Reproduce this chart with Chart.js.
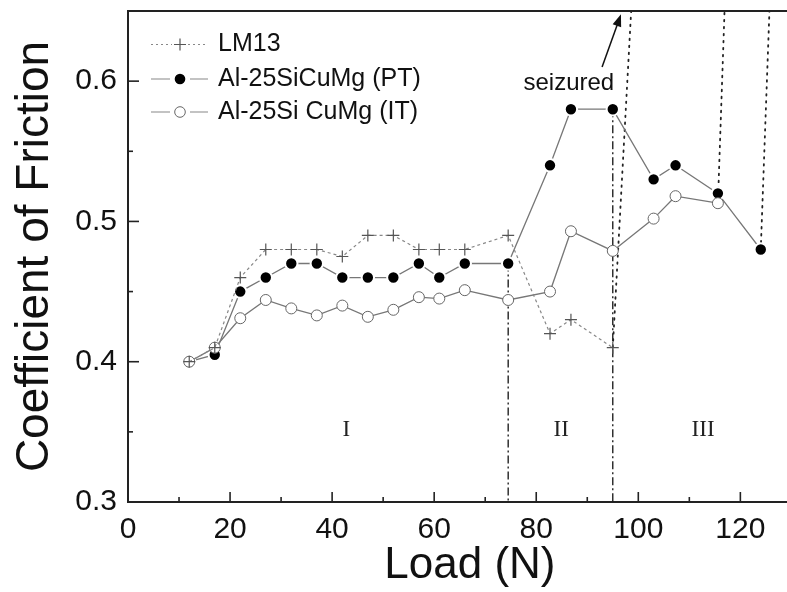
<!DOCTYPE html>
<html>
<head>
<meta charset="utf-8">
<script src="https://cdn.jsdelivr.net/npm/chart.js@4/dist/chart.umd.min.js"></script>
<style>
html,body{margin:0;padding:0;overflow:hidden;background:#fff;width:787px;height:592px;}
canvas{display:block;}
</style>
</head>
<body>
<canvas id="c" width="820" height="592"></canvas>
<script>
// ---- data ----
const loadLM13 = [12,17,22,27,32,37,42,47,52,57,61,66,74.5,82.7,86.8,95];
const cofLM13  = [0.40,0.41,0.46,0.48,0.48,0.48,0.475,0.49,0.49,0.48,0.48,0.48,0.49,0.42,0.43,0.41];
const loadPT   = [12,17,22,27,32,37,42,47,52,57,61,66,74.5,82.7,86.8,95,103,107.3,115.6,124];
const cofPT    = [0.40,0.405,0.45,0.46,0.47,0.47,0.46,0.46,0.46,0.47,0.46,0.47,0.47,0.54,0.58,0.58,0.53,0.54,0.52,0.48];
const loadIT   = [12,17,22,27,32,37,42,47,52,57,61,66,74.5,82.7,86.8,95,103,107.3,115.6];
const cofIT    = [0.40,0.41,0.431,0.444,0.438,0.433,0.44,0.432,0.437,0.446,0.445,0.451,0.444,0.45,0.493,0.479,0.502,0.518,0.513];
// seizure (dotted) lines: start point -> point at top of axis
const seizLM13X = [95,98.6];    const seizLM13Y = [0.41,0.65];
const seizITX   = [115.6,116.9]; const seizITY   = [0.513,0.65];
const seizPTX   = [124,125.7];   const seizPTY   = [0.48,0.65];
// regime boundaries (dash-dot)
const bound1X = [74.5,74.5]; const bound1Y = [0.47,0.30];
const bound2X = [95,95];     const bound2Y = [0.58,0.30];
// regime labels
const regimeLabels = ['I','II','III'];
const regimeX = [42.8,84.9,112.7];
const regimeY = 0.3515;
// annotation
const seizText = 'seizured'; const seizTextX = 77.5; const seizTextY = 0.594;
const arrowFrom = [92.9,0.61]; const arrowTo = [96.6,0.6476];
// axes
const xMin = 0, xMax = 134, xStep = 10;
const yMin = 0.3, yMax = 0.65, yStep = 0.05;
const seriesNames = ['LM13','Al-25SiCuMg (PT)','Al-25Si CuMg (IT)'];

const pts = (xs,ys)=>xs.map((x,i)=>({x:x,y:ys[i]}));
const SANS = "'Liberation Sans', Arial, sans-serif";

const overlay = {
  id:'overlay',
  afterDraw(chart){
    const {ctx, chartArea:a, scales:{x,y}} = chart;
    ctx.save();
    // inward ticks
    ctx.strokeStyle='#222'; ctx.lineWidth=1.6;
    x.ticks.forEach(t=>{
      const px=x.getPixelForValue(t.value); if(px>a.right+1) return;
      const len = (Math.round(t.value)%20===0)?10:5;
      ctx.beginPath(); ctx.moveTo(px,a.bottom); ctx.lineTo(px,a.bottom-len); ctx.stroke();
    });
    y.ticks.forEach(t=>{
      const py=y.getPixelForValue(t.value);
      const len = (Math.round(t.value*100)%10===0)?11:5;
      ctx.beginPath(); ctx.moveTo(a.left,py); ctx.lineTo(a.left+len,py); ctx.stroke();
    });
    // top frame
    ctx.lineWidth=2; ctx.beginPath(); ctx.moveTo(a.left-1,a.top); ctx.lineTo(a.right,a.top); ctx.stroke();
    // regime labels
    ctx.fillStyle='#222'; ctx.font="23px 'Liberation Serif', 'Times New Roman', serif";
    ctx.textAlign='center'; ctx.textBaseline='middle';
    regimeLabels.forEach((s,i)=>ctx.fillText(s, x.getPixelForValue(regimeX[i]), y.getPixelForValue(regimeY)));
    // seizured label + arrow
    ctx.fillStyle='#111'; ctx.font='24px '+SANS; ctx.textAlign='left'; ctx.textBaseline='alphabetic';
    ctx.fillText(seizText, x.getPixelForValue(seizTextX), y.getPixelForValue(seizTextY));
    const x0=x.getPixelForValue(arrowFrom[0]), y0=y.getPixelForValue(arrowFrom[1]);
    const x1=x.getPixelForValue(arrowTo[0]), y1=y.getPixelForValue(arrowTo[1]);
    const ang=Math.atan2(y1-y0,x1-x0);
    ctx.strokeStyle='#111'; ctx.lineWidth=1.5;
    ctx.beginPath(); ctx.moveTo(x0,y0); ctx.lineTo(x1-8*Math.cos(ang),y1-8*Math.sin(ang)); ctx.stroke();
    ctx.beginPath(); ctx.moveTo(x1,y1);
    ctx.lineTo(x1-12*Math.cos(ang)+4.5*Math.sin(ang), y1-12*Math.sin(ang)-4.5*Math.cos(ang));
    ctx.lineTo(x1-12*Math.cos(ang)-4.5*Math.sin(ang), y1-12*Math.sin(ang)+4.5*Math.cos(ang));
    ctx.closePath(); ctx.fill();
    // legend
    const rows=[44.5,79,112];
    const lx0=151, lx1=208, mx=180, tx=218;
    ctx.font='25px '+SANS; ctx.textBaseline='middle'; ctx.textAlign='left';
    rows.forEach((ry,i)=>{
      ctx.strokeStyle='#888'; ctx.lineWidth=1.2;
      if(i===0){
        ctx.setLineDash([2,3]);
        ctx.beginPath(); ctx.moveTo(lx0,ry); ctx.lineTo(mx-8,ry); ctx.moveTo(mx+8,ry); ctx.lineTo(lx1,ry); ctx.stroke();
        ctx.setLineDash([]);
        ctx.strokeStyle='#555';
        ctx.beginPath(); ctx.moveTo(mx-6,ry); ctx.lineTo(mx+6,ry); ctx.moveTo(mx,ry-6); ctx.lineTo(mx,ry+6); ctx.stroke();
      } else {
        ctx.beginPath(); ctx.moveTo(lx0,ry); ctx.lineTo(mx-10,ry); ctx.moveTo(mx+10,ry); ctx.lineTo(lx1,ry); ctx.stroke();
        ctx.beginPath(); ctx.arc(mx,ry,5.3,0,Math.PI*2);
        if(i===1){ ctx.fillStyle='#000'; ctx.fill(); }
        else { ctx.fillStyle='#fff'; ctx.fill(); ctx.strokeStyle='#666'; ctx.lineWidth=1; ctx.stroke(); }
      }
      ctx.fillStyle='#111';
      ctx.fillText(seriesNames[i], tx, ry);
    });
    ctx.restore();
  }
};

new Chart(document.getElementById('c'), {
  type:'scatter',
  data:{datasets:[
    {label:seriesNames[0], data:pts(loadLM13,cofLM13), showLine:true, borderColor:'#888', borderWidth:1.2, borderDash:[3,3],
     pointStyle:'cross', pointRadius:6, pointBorderColor:'#555', pointBorderWidth:1.2, pointBackgroundColor:'#555'},
    {label:seriesNames[2], data:pts(loadIT,cofIT), showLine:true, borderColor:'#777', borderWidth:1.3,
     pointStyle:'circle', pointRadius:5.5, pointBackgroundColor:'#fff', pointBorderColor:'#666', pointBorderWidth:1},
    {label:seriesNames[1], data:pts(loadPT,cofPT), showLine:true, borderColor:'#777', borderWidth:1.3,
     pointStyle:'circle', pointRadius:6.2, pointBackgroundColor:'#000', pointBorderColor:'#fff', pointBorderWidth:2},
    {label:'s1', data:pts(seizLM13X,seizLM13Y), showLine:true, borderColor:'#222', borderWidth:1.8, borderDash:[1.5,5.5], borderCapStyle:'round', pointRadius:0},
    {label:'s2', data:pts(seizITX,seizITY), showLine:true, borderColor:'#222', borderWidth:1.8, borderDash:[1.5,5.5], borderCapStyle:'round', pointRadius:0},
    {label:'s3', data:pts(seizPTX,seizPTY), showLine:true, borderColor:'#222', borderWidth:1.8, borderDash:[1.5,5.5], borderCapStyle:'round', pointRadius:0},
    {label:'b1', data:pts(bound1X,bound1Y), showLine:true, borderColor:'#111', borderWidth:1.3, borderDash:[8,3,2,3], pointRadius:0},
    {label:'b2', data:pts(bound2X,bound2Y), showLine:true, borderColor:'#111', borderWidth:1.3, borderDash:[8,3,2,3], pointRadius:0}
  ]},
  options:{
    responsive:false, animation:false, events:[],
    layout:{padding:{top:11,left:0,right:4,bottom:0}},
    plugins:{legend:{display:false}, tooltip:{enabled:false}},
    scales:{
      x:{type:'linear', min:xMin, max:xMax,
        border:{display:true,color:'#222',width:2},
        grid:{display:false, drawTicks:false},
        ticks:{stepSize:xStep, autoSkip:false, includeBounds:false, maxRotation:0, padding:10, color:'#111',
          font:{family:SANS, size:30},
          callback:v=> (Math.round(v)%20===0)? String(v):''},
        title:{display:true, text:'Load (N)', color:'#111',
          font:{family:SANS, size:44, lineHeight:1},
          padding:{top:0,bottom:4}},
        afterFit(s){ s.height=90; s.paddingLeft=0; s.paddingRight=0; }
      },
      y:{type:'linear', min:yMin, max:yMax,
        border:{display:true,color:'#222',width:2},
        grid:{display:false, drawTicks:false},
        ticks:{stepSize:yStep, autoSkip:false, padding:11, color:'#111',
          font:{family:SANS, size:30},
          callback:v=> (Math.round(v*100)%10===0)? v.toFixed(1):''},
        title:{display:true, text:'Coefficient of Friction', color:'#111',
          font:{family:SANS, size:46, lineHeight:1}, padding:{top:12,bottom:0}},
        afterFit(s){ s.width=128; s.paddingTop=0; s.paddingBottom=0; }
      }
    }
  },
  plugins:[overlay]
});
</script>
</body>
</html>
